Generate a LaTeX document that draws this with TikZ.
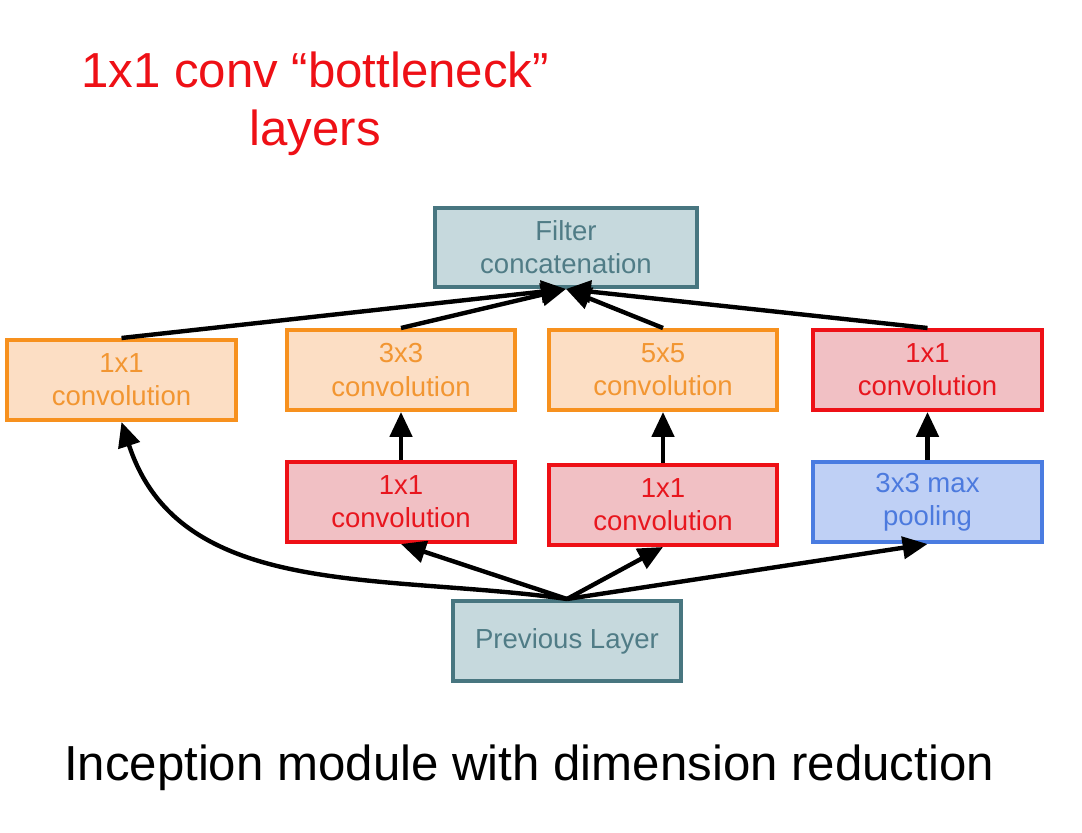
\documentclass[tikz,border=0pt]{standalone}
\usepackage{fontspec}
\setmainfont{Liberation Sans}
\usepackage{tikz}
\usetikzlibrary{arrows.meta}

\definecolor{tealline}{RGB}{72,118,128}
\definecolor{tealfill}{RGB}{198,217,221}
\definecolor{tealtext}{RGB}{80,124,134}
\definecolor{orgline}{RGB}{247,145,30}
\definecolor{orgfill}{RGB}{252,222,196}
\definecolor{orgtext}{RGB}{242,150,50}
\definecolor{redline}{RGB}{238,16,22}
\definecolor{redfill}{RGB}{241,192,196}
\definecolor{redtext}{RGB}{232,22,30}
\definecolor{blueline}{RGB}{74,124,225}
\definecolor{bluefill}{RGB}{191,208,245}
\definecolor{bluetext}{RGB}{76,122,222}

\begin{document}
\begin{tikzpicture}[->,>={Triangle[length=0.62cm,width=0.55cm]},line width=0.11cm,
  box/.style={draw, line width=0.1cm, minimum width=5.72cm, minimum height=2cm,
    inner sep=0pt, align=center, font=\fontsize{19.6}{23.5}\selectfont},
  concat/.style={box, draw=tealline, fill=tealfill, text=tealtext},
  conv/.style={box, draw=orgline, fill=orgfill, text=orgtext},
  reduce/.style={box, draw=redline, fill=redfill, text=redtext},
  pool/.style={box, draw=blueline, fill=bluefill, text=bluetext},
  big/.style={font=\fontsize{35}{41}\selectfont, align=center}]
\useasboundingbox (0,0) rectangle (27.05,20.8);

\node[big, text=redline] (title) at (7.875,18.2) {1x1 conv “bottleneck”\\layers};

\node[concat, minimum width=6.55cm, minimum height=1.975cm] (F) at (14.15,14.6125) {Filter\\concatenation};

\node[conv] (C1) at (3.0375,11.3) {1x1\\convolution};
\node[conv] (C3) at (10.025,11.55) {3x3\\convolution};
\node[conv] (C5) at (16.575,11.55) {5x5\\convolution};
\node[reduce] (R4) at (23.1875,11.55) {1x1\\convolution};

\node[reduce] (R3) at (10.025,8.25) {1x1\\convolution};
\node[reduce] (R5) at (16.575,8.175) {1x1\\convolution};
\node[pool] (P) at (23.1875,8.25) {3x3 max\\pooling};

\node[concat] (L) at (14.175,4.775) {Previous Layer};

\node[big] (cap) at (13.225,1.6) {Inception module with dimension reduction};

\draw (C1.north) -- (F.south);
\draw (C3.north) -- (F.south);
\draw (C5.north) -- (F.south);
\draw (R4.north) -- (F.south);

\draw (R3.north) -- (C3.south);
\draw (R5.north) -- (C5.south);
\draw (P.north) -- (R4.south);

\draw (L.north) to[out=172, in=-72] (C1.south);
\draw (L.north) -- (R3.south);
\draw (L.north) -- (R5.south);
\draw (L.north) -- (P.south);
\end{tikzpicture}
\end{document}
